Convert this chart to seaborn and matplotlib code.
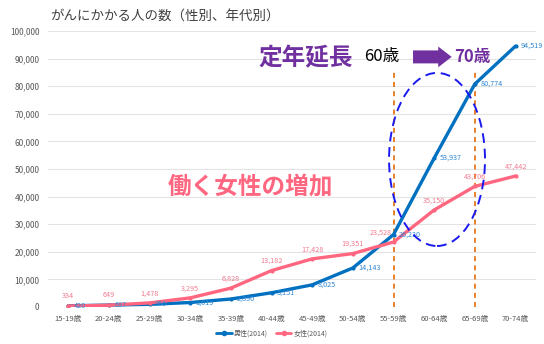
import numpy as np
import pandas as pd
import matplotlib
matplotlib.use("Agg")
import matplotlib.pyplot as plt
from matplotlib.patches import Ellipse, FancyArrow
from matplotlib.lines import Line2D
import seaborn as sns

# ---- data ----
ages = ["15-19歳", "20-24歳", "25-29歳", "30-34歳", "35-39歳", "40-44歳",
        "45-49歳", "50-54歳", "55-59歳", "60-64歳", "65-69歳", "70-74歳"]
male = [420, 697, 966, 1619, 2890, 5151, 8025, 14143, 26230, 53937, 80774, 94519]
female = [334, 649, 1478, 3295, 6828, 13182, 17428, 19351, 23528, 35150, 43706, 47442]
series_names = ["男性(2014)", "女性(2014)"]
yticks = [0, 10000, 20000, 30000, 40000, 50000, 60000, 70000, 80000, 90000, 100000]

BLUE = "#0070C0"
PINK = "#FF6680"
PURPLE = "#7030A0"
ORANGE = "#E36C09"

df = pd.DataFrame({
    "age": ages * 2,
    "count": male + female,
    "sex": [series_names[0]] * len(ages) + [series_names[1]] * len(ages),
})

sns.set_theme(style="white")
plt.rcParams["font.family"] = ["Noto Sans CJK JP", "DejaVu Sans"]

fig = plt.figure(figsize=(5.44, 3.44), dpi=100)
ax = fig.add_axes([0.088, 0.1076, 0.897, 0.8024])

sns.lineplot(data=df, x="age", y="count", hue="sex", sort=False,
             palette={series_names[0]: BLUE, series_names[1]: PINK},
             hue_order=series_names, linewidth=2.4, marker="o", markersize=3,
             markeredgewidth=0, ax=ax, legend=False, zorder=3)

ax.set_xlim(-0.5, len(ages) - 0.5)
ax.set_ylim(0, 100000)
ax.set_yticks(yticks)
ax.set_yticklabels([f"{v:,}" for v in yticks], fontsize=6, color="#595959")
ax.set_xticks(range(len(ages)))
ax.set_xticklabels(ages, fontsize=5.5, color="#595959")
ax.tick_params(axis="both", length=0, pad=6)
ax.set_xlabel("")
ax.set_ylabel("")
ax.grid(axis="y", color="#E3E3E3", linewidth=0.8)
ax.set_axisbelow(True)
for s in ax.spines.values():
    s.set_visible(False)

# data labels
for i, v in enumerate(male):
    ax.annotate(f"{v:,}", (i, v), xytext=(4, 0), textcoords="offset points",
                ha="left", va="center", fontsize=5.2, color="#2E86D4", zorder=4)
for i, v in enumerate(female):
    dx = -9 if i == 8 else 0
    ax.annotate(f"{v:,}", (i, v), xytext=(dx, 7), textcoords="offset points",
                ha="center", va="center", fontsize=5.2, color="#F47A90", zorder=4)

# orange dashed verticals
for xi in (8, 10):
    ax.plot([xi, xi], [0, 85000], color=ORANGE, lw=1.2, ls=(0, (3, 2.5)), zorder=2)

# blue dashed ellipse
ax.add_patch(Ellipse((9.07, 53450), 2.36, 62700, fill=False, edgecolor="#1A1AF0",
                     lw=1.4, ls=(0, (5, 3)), zorder=5))

# annotations
ax.text(5.85, 90200, "定年延長", fontsize=17, fontweight="bold", color=PURPLE,
        ha="center", va="center", zorder=6)
ax.text(7.72, 90600, "60歳", fontsize=12, color="black", ha="center", va="center", zorder=6)
ax.add_patch(FancyArrow(8.48, 90600, 0.95 - 0.33, 0, width=4700, head_width=7500,
                        head_length=0.33, length_includes_head=False,
                        color=PURPLE, lw=0, zorder=6))
ax.text(9.93, 90600, "70歳", fontsize=12, fontweight="bold", color=PURPLE,
        ha="center", va="center", zorder=6)
ax.text(4.47, 43500, "働く女性の増加", fontsize=17, fontweight="bold", color=PINK,
        ha="center", va="center", zorder=6)

# title
fig.text(0.092, 0.955, "がんにかかる人の数（性別、年代別）", fontsize=9.7,
         color="#404040", ha="left", va="center")

# legend
handles = [Line2D([], [], color=BLUE, lw=2, marker="o", markersize=3),
           Line2D([], [], color=PINK, lw=2, marker="o", markersize=3)]
fig.legend(handles, series_names, loc="center", bbox_to_anchor=(0.5, 0.03), ncol=2,
           frameon=False, fontsize=5, labelcolor="#595959", handlelength=2.2,
           columnspacing=1.2, handletextpad=0.3)

fig.savefig("out.png", dpi=100)
